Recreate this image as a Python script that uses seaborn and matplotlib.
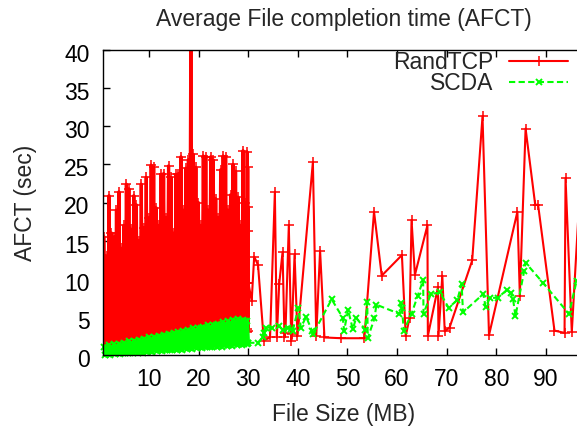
import matplotlib
matplotlib.use("Agg")
import matplotlib.pyplot as plt
from matplotlib.transforms import ScaledTranslation
import pandas as pd
import seaborn as sns

# ---------------- data ----------------
# dense region (0-30 MB): file sizes shared by both schemes
size_dense = [
    0.95, 1.20, 1.45, 1.70, 1.95, 2.20, 2.45, 2.70, 2.95, 3.20,
    3.45, 3.70, 3.95, 4.20, 4.45, 4.70, 4.95, 5.20, 5.45, 5.70,
    5.95, 6.20, 6.45, 6.70, 6.95, 7.20, 7.45, 7.70, 7.95, 8.20,
    8.45, 8.70, 8.95, 9.20, 9.45, 9.70, 9.95, 10.20, 10.45, 10.70,
    10.95, 11.20, 11.45, 11.70, 11.95, 12.20, 12.45, 12.70, 12.95, 13.20,
    13.45, 13.70, 13.95, 14.20, 14.45, 14.70, 14.95, 15.20, 15.45, 15.70,
    15.95, 16.20, 16.45, 16.70, 16.95, 17.20, 17.45, 17.70, 17.95, 18.20,
    18.45, 18.70, 18.95, 19.20, 19.45, 19.70, 19.95, 20.20, 20.45, 20.70,
    20.95, 21.20, 21.45, 21.70, 21.95, 22.20, 22.45, 22.70, 22.95, 23.20,
    23.45, 23.70, 23.95, 24.20, 24.45, 24.70, 24.95, 25.20, 25.45, 25.70,
    25.95, 26.20, 26.45, 26.70, 26.95, 27.20, 27.45, 27.70, 27.95, 28.20,
    28.45, 28.70, 28.95, 29.20, 29.45, 29.70,
]

rand_dense = [
    15.5, 0.8, 13.0, 0.6, 20.9, 0.9, 16.0, 0.7, 15.5, 1.0, 19.0, 0.8, 21.4, 1.1, 14.0, 0.9, 17.0, 1.2, 22.4, 1.0,
    21.8, 1.3, 16.5, 1.1, 20.9, 1.4, 19.7, 1.2, 15.0, 1.5, 22.4, 1.3, 16.7, 1.6, 23.3, 1.4, 18.0, 1.7, 24.9, 1.5,
    24.6, 1.8, 19.3, 1.6, 17.0, 1.9, 23.7, 1.7, 23.8, 2.0, 18.0, 1.8, 24.8, 2.1, 23.3, 1.9, 16.0, 2.2, 23.7, 2.0,
    23.8, 2.3, 26.0, 2.1, 19.0, 2.4, 24.5, 2.2, 25.6, 2.5, 45.0, 2.3, 26.3, 2.6, 24.6, 2.4, 20.0, 2.7, 17.0, 2.5,
    26.1, 2.8, 26.0, 2.6, 19.0, 2.9, 26.0, 2.7, 25.6, 3.0, 20.5, 2.8, 18.0, 3.1, 24.3, 2.9, 26.1, 3.2, 26.0, 3.0,
    19.0, 3.3, 21.0, 3.1, 25.0, 3.4, 24.1, 3.2, 20.7, 3.5, 17.0, 3.3, 26.8, 3.6, 19.9, 3.4,
]

scda_dense = [
    1.1, 0.0, 0.9, 0.1, 1.3, 0.0, 1.1, 0.2, 1.4, 0.1, 1.2, 0.2, 1.5, 0.1, 1.3, 0.3, 1.6, 0.2, 1.5, 0.3,
    1.8, 0.2, 1.6, 0.3, 1.9, 0.4, 1.7, 0.3, 2.0, 0.4, 1.9, 0.3, 2.1, 0.5, 2.0, 0.4, 2.3, 0.5, 2.1, 0.4,
    2.4, 0.6, 2.2, 0.5, 2.5, 0.6, 2.4, 0.5, 2.6, 0.7, 2.5, 0.6, 2.8, 0.7, 2.6, 0.6, 2.9, 0.8, 2.8, 0.7,
    3.0, 0.8, 2.9, 0.7, 3.2, 0.9, 3.0, 0.8, 3.3, 0.9, 3.2, 0.8, 3.5, 1.0, 3.3, 0.9, 3.6, 1.0, 3.5, 0.9,
    3.7, 1.1, 3.6, 1.0, 3.9, 1.1, 3.7, 1.0, 4.0, 1.2, 3.9, 1.1, 4.1, 1.2, 4.0, 1.1, 4.3, 1.3, 4.1, 1.2,
    4.4, 1.3, 4.2, 1.2, 4.6, 1.4, 4.4, 1.3, 4.7, 1.4, 4.5, 1.3, 4.6, 1.5, 4.4, 1.4,
]

# sparse region (30 MB and above); the first points close the dense block
rand_sparse_size = [
    29.80, 29.85, 29.90, 29.93, 29.96, 30.00, 30.02, 30.70, 31.20, 31.98,
    33.14, 34.40, 35.37, 35.76, 36.24, 36.92, 37.31, 37.50, 38.18, 38.67,
    38.76, 39.34, 39.93, 43.03, 43.71, 44.48, 45.36, 48.75, 53.40, 55.35,
    56.90, 60.97, 61.74, 62.52, 62.91, 63.59, 66.11, 66.20, 68.24, 68.34,
    69.11, 69.60, 70.57, 75.13, 77.21, 78.52, 84.24, 84.73, 85.89, 87.83,
    88.41, 91.71, 93.74, 93.94, 95.20, 97.20,
]
rand_sparse_afct = [
    26.6, 3.0, 24.6, 3.2, 19.4, 16.3, 9.5, 7.1, 12.9, 11.8,
    1.9, 2.3, 21.4, 2.3, 9.3, 13.5, 2.3, 2.9, 17.0, 1.9,
    2.7, 13.2, 2.5, 25.3, 2.5, 13.7, 2.3, 2.2, 2.2, 18.8,
    10.4, 13.1, 2.5, 4.9, 17.7, 10.5, 17.0, 2.5, 8.9, 2.5,
    10.4, 3.1, 3.6, 12.4, 31.3, 2.6, 18.8, 7.8, 29.7, 19.7,
    19.7, 3.2, 2.9, 23.2, 3.0, 26.0,
]

scda_sparse_size = [
    29.80, 30.00, 31.88, 32.95, 33.24, 33.58, 34.89, 36.24, 36.92, 37.99,
    38.67, 38.96, 40.12, 40.60, 41.67, 42.84, 43.03, 46.81, 49.04, 49.33,
    50.11, 51.08, 51.76, 53.60, 53.99, 54.08, 55.44, 55.83, 60.48, 60.87,
    60.97, 61.36, 62.91, 64.17, 65.24, 65.33, 66.79, 68.63, 70.38, 72.12,
    73.00, 73.28, 77.36, 77.84, 78.71, 80.27, 82.06, 82.98, 83.37, 83.85,
    85.60, 85.89, 89.48, 94.62, 96.17, 97.50,
]
scda_sparse_afct = [
    4.5, 1.6, 1.6, 2.3, 2.9, 3.6, 3.6, 3.8, 3.3, 3.6,
    3.4, 3.2, 6.2, 3.6, 5.0, 3.2, 2.7, 7.3, 4.9, 3.2,
    5.9, 3.4, 4.9, 3.3, 6.9, 2.2, 4.8, 6.6, 5.4, 6.8,
    6.1, 3.2, 5.4, 7.8, 9.8, 5.4, 8.0, 8.2, 6.2, 7.2,
    9.3, 5.6, 8.0, 6.3, 7.5, 7.5, 8.5, 8.1, 7.3, 5.1,
    11.0, 12.1, 9.4, 5.4, 9.7, 11.0,
]

x_ticks = [10, 20, 30, 40, 50, 60, 70, 80, 90]
y_ticks = [0, 5, 10, 15, 20, 25, 30, 35, 40]

RAND_TAIL = 7   # points of the sparse list that still belong to the dense block
SCDA_TAIL = 2

rand_dense_df = pd.DataFrame({"size": size_dense + rand_sparse_size[:RAND_TAIL],
                              "afct": rand_dense + rand_sparse_afct[:RAND_TAIL]})
rand_sparse_df = pd.DataFrame({"size": rand_sparse_size[RAND_TAIL - 1:],
                               "afct": rand_sparse_afct[RAND_TAIL - 1:]})
scda_dense_df = pd.DataFrame({"size": size_dense + scda_sparse_size[:SCDA_TAIL],
                              "afct": scda_dense + scda_sparse_afct[:SCDA_TAIL]})
scda_sparse_df = pd.DataFrame({"size": scda_sparse_size[SCDA_TAIL - 1:],
                               "afct": scda_sparse_afct[SCDA_TAIL - 1:]})

# ---------------- style ----------------
sns.set_style("ticks")
plt.rcParams["font.family"] = ["Liberation Sans", "DejaVu Sans"]
FS = 16.5

fig = plt.figure(figsize=(5.77, 4.30), dpi=100)
W, H = 577.0, 430.0
ax = fig.add_axes([103.3 / W, (H - 355.0) / H, 480.4 / W, 305.0 / H])

RED = "#ff0000"
GREEN = "#00ff00"

common = dict(x="size", y="afct", sort=False, estimator=None, ax=ax)

# RandTCP
sns.lineplot(data=rand_dense_df, color=RED, linewidth=2.3, marker="+",
             markersize=7, markeredgewidth=1.1, markeredgecolor=RED, **common)
sns.lineplot(data=rand_sparse_df, color=RED, linewidth=1.5, marker="+",
             markersize=7, markeredgewidth=1.1, markeredgecolor=RED,
             label="RandTCP", **common)
# SCDA
sns.lineplot(data=scda_dense_df, color=GREEN, linewidth=2.6, marker="x",
             markersize=5, markeredgewidth=1.4, markeredgecolor=GREEN, **common)
ax.lines[-1].set_clip_on(False)
sns.lineplot(data=scda_sparse_df, color=GREEN, linewidth=1.5, marker="x",
             markersize=5, markeredgewidth=1.4, markeredgecolor=GREEN,
             label="SCDA", **common)
ax.lines[-1].set_dashes([3, 1.6])

ax.set_xlim(0.8, 97.6)
ax.set_ylim(0, 40)
ax.set_xticks(x_ticks)
ax.set_yticks(y_ticks)
ax.set_xticklabels([str(t) for t in x_ticks])
ax.set_yticklabels([str(t) for t in y_ticks])

for s in ax.spines.values():
    s.set_visible(True)
    s.set_color("black")
    s.set_linewidth(1.0)

ax.tick_params(direction="in", length=5, width=1, top=True, right=True,
               labelsize=FS, colors="black")
ax.tick_params(axis="y", pad=10)
ax.tick_params(axis="x", pad=9)

# gnuplot draws the y tick labels a few pixels below their ticks
shift = ScaledTranslation(0, -3.0 / 100.0, fig.dpi_scale_trans)
for lab in ax.get_yticklabels():
    lab.set_transform(lab.get_transform() + shift)

ax.set_title("Average File completion time (AFCT)", fontsize=FS, pad=17.5)
ax.set_xlabel("File Size (MB)", fontsize=FS)
ax.set_ylabel("AFCT (sec)", fontsize=FS)
ax.xaxis.label.set_va("center")
ax.yaxis.label.set_va("center")
ax.xaxis.set_label_coords(0.5, (355.0 - 415.0) / 305.0)
ax.yaxis.set_label_coords((25.0 - 103.3) / 480.4, 0.5)

handles, labels = ax.get_legend_handles_labels()
leg = ax.legend(handles, labels, loc="upper right",
                bbox_to_anchor=((568.3 - 103.3) / 480.4, 0.996),
                frameon=False, markerfirst=False, fontsize=FS,
                handlelength=2.6, handletextpad=0.68, labelspacing=-0.08,
                borderpad=0, borderaxespad=0, numpoints=1)

fig.savefig("out.png", dpi=100)
